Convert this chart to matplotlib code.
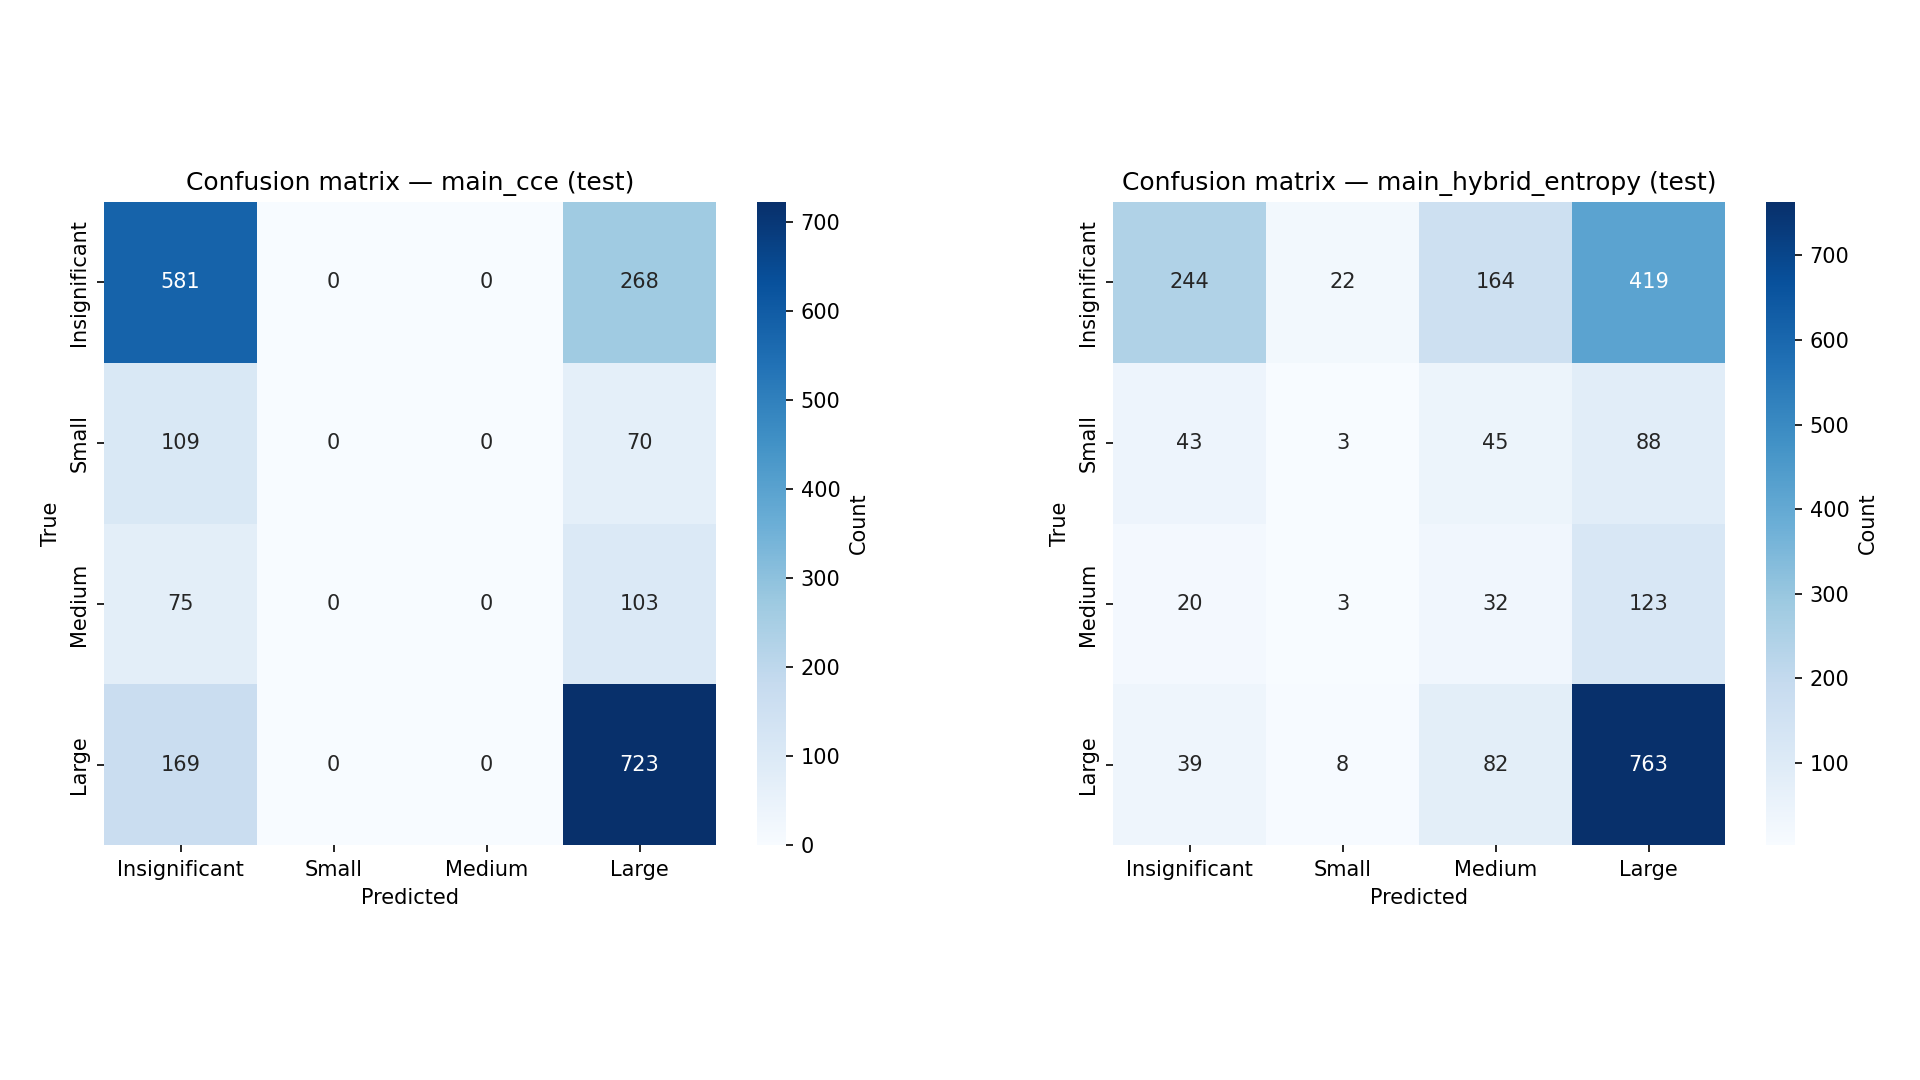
import numpy as np
import matplotlib
matplotlib.use("Agg")
import matplotlib.pyplot as plt
import seaborn as sns

labels = ["Insignificant", "Small", "Medium", "Large"]
cm_cce = [
    [581, 0, 0, 268],
    [109, 0, 0, 70],
    [75, 0, 0, 103],
    [169, 0, 0, 723],
]
cm_hybrid = [
    [244, 22, 164, 419],
    [43, 3, 45, 88],
    [20, 3, 32, 123],
    [39, 8, 82, 763],
]
titles = ["Confusion matrix — main_cce (test)",
          "Confusion matrix — main_hybrid_entropy (test)"]

fig = plt.figure(figsize=(12.8, 7.2), dpi=150)
W, H = 1920.0, 1080.0

def ax_rect(x0, y0, x1, y1):
    return [x0 / W, 1 - y1 / H, (x1 - x0) / W, (y1 - y0) / H]

axes_px = [(104, 202, 716, 845), (1113, 202, 1725, 845)]
cbar_px = [(757, 202, 786, 845), (1766, 202, 1795, 845)]

for cm, title, apx, cpx in zip([cm_cce, cm_hybrid], titles, axes_px, cbar_px):
    ax = fig.add_axes(ax_rect(*apx))
    cax = fig.add_axes(ax_rect(*cpx))
    data = np.array(cm)
    sns.heatmap(data, annot=True, fmt="d", cmap="Blues", ax=ax, cbar_ax=cax,
                xticklabels=labels, yticklabels=labels,
                cbar_kws={"label": "Count"})
    ax.set_title(title, fontsize=12)
    ax.set_xlabel("Predicted")
    ax.set_ylabel("True")

fig.savefig("out.png", dpi=150)
